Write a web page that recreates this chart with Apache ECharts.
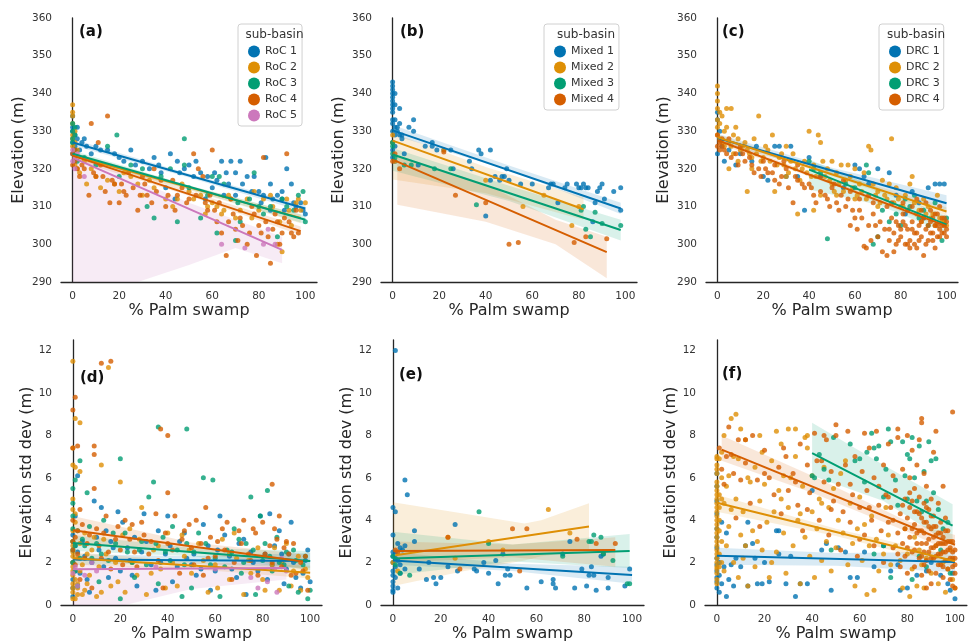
<!DOCTYPE html>
<html>
<head>
<meta charset="utf-8">
<script src="https://cdn.jsdelivr.net/npm/echarts@6.0.0/dist/echarts.min.js"></script>
<style>
  html, body { margin: 0; padding: 0; background: #fff; }
  #main { width: 968px; height: 644px; }
</style>
</head>
<body>
<div id="main"></div>
<script>
// palette (seaborn colorblind)
var C = ['#0173b2', '#de8f05', '#029e73', '#d55e00', '#cc78bc'];

var xTicks = [0, 20, 40, 60, 80, 100];
var elevTicks = [290, 300, 310, 320, 330, 340, 350, 360];
var sdTicks = [0, 2, 4, 6, 8, 10, 12];

var rocNames = ['RoC 1', 'RoC 2', 'RoC 3', 'RoC 4', 'RoC 5'];
var mixNames = ['Mixed 1', 'Mixed 2', 'Mixed 3', 'Mixed 4'];
var drcNames = ['DRC 1', 'DRC 2', 'DRC 3', 'DRC 4'];

// ---------- (a) elevation, RoC ----------
var aRoC1 = [[0,334],[0,331],[1,329],[0,327],[2,328],[1,326],[3,325],[0,324],[5,328],[10,326],[15,325],[20,323],[25,325],[30,322],[35,323],[42,324],[45,322],[48,320],[50,321],[55,319],[58,318],[62,317],[64,322],[66,319],[68,322],[70,319],[72,322],[75,318],[78,318],[80,314],[82,313],[83,323],[85,316],[88,313],[90,312],[92,320],[94,316],[96,310],[98,311],[100,308],[40,315],[44,312],[60,315],[70,313],[85,309],[90,314],[52,318],[57,312],[65,313],[73,316],[8,324],[27,321],[38,319],
    [0,330],[2,331],[4,327],[6,326],[12,325],[18,324],[22,322],[33,320],[37,321],[46,319],[53,322],[61,319],[67,316],[77,314],[81,311],[86,312],[91,309],[95,311],[99,309]];
var aRoC2 = [[0,337],[0,334],[0,332],[1,330],[0,326],[1,321],[2,320],[3,319],[5,322],[8,320],[10,318],[12,315],[15,317],[18,316],[20,314],[25,318],[28,316],[30,313],[35,315],[40,312],[45,312],[50,314],[55,313],[60,311],[62,310],[65,309],[70,307],[75,312],[78,314],[80,309],[82,312],[85,313],[88,300],[90,298],[92,312],[94,305],[96,311],[98,309],[6,316],[22,319],[33,317],[47,316],[57,308],[68,312],
    [0,329],[0,328],[1,327],[0,335],[2,325],[1,323],[43,310],[52,312],[58,310],[64,308],[67,313],[72,309],[77,307],[86,310],[89,306],[93,309],[97,312],[100,311]];
var aRoC3 = [[0,330],[0,328],[1,325],[2,322],[5,323],[10,321],[15,326],[19,329],[20,318],[25,321],[30,320],[32,310],[35,307],[38,318],[42,320],[45,306],[48,328],[48,321],[50,315],[55,307],[58,313],[60,318],[62,303],[63,318],[65,316],[70,301],[71,311],[72,306],[76,312],[78,319],[80,310],[82,308],[85,310],[88,302],[90,312],[92,310],[95,309],[97,313],[99,314],[100,306],
    [0,332],[0,327],[1,329],[1,331]];
var aRoC4 = [[0,324],[1,322],[2,320],[4,321],[7,313],[8,332],[10,318],[11,327],[12,321],[14,314],[15,334],[16,311],[18,316],[20,311],[22,314],[24,319],[26,315],[28,309],[30,318],[32,313],[35,320],[38,317],[40,310],[43,317],[45,313],[47,315],[50,312],[52,324],[54,320],[56,318],[58,309],[60,325],[62,306],[64,303],[66,297],[68,312],[70,304],[72,307],[75,300],[77,310],[79,297],[80,305],[82,323],[84,302],[85,295],[87,308],[89,300],[91,307],[92,324],[94,303],[96,309],[97,303],
    [0,321],[1,325],[3,318],[5,320],[9,319],[13,318],[17,317],[21,316],[23,313],[29,313],[31,316],[34,311],[36,314],[41,313],[44,309],[49,311],[53,313],[57,311],[59,313],[61,309],[63,311],[67,306],[69,308],[71,301],[73,305],[76,303],[78,308],[81,303],[83,306],[86,304],[88,306],[90,303],[93,306],[95,302]];
var aRoC5 = [[0,322],[0,325],[1,320],[2,324],[5,318],[64,300],[74,299],[82,300],[84,304],[87,300]];
var aFit1 = [[0,327],[100,309.5]];
var aFit2 = [[0,323.5],[98,307]];
var aFit3 = [[0,324],[100,306.5]];
var aFit4 = [[0,323.5],[98,303.5]];
var aFit5 = [[0,323],[90,298.5]];
var aBand1 = [[0,326.2,327.9],[50,317.7,318.7],[100,308.5,310.4]];
var aBand2 = [[0,322.6,324.4],[50,314.4,315.5],[98,305.6,307.9]];
var aBand3 = [[0,323.1,324.9],[50,314.6,315.6],[100,305.4,307.6]];
var aBand4 = [[0,322.5,324.5],[50,312.9,314.1],[98,302.4,304.7]];
var aBand5 = [[0,290,324],[28,290,317],[50,294.5,311],[70,299,306.5],[90,295,302]];

// ---------- (b) elevation, Mixed ----------
var bMix1 = [[0,343],[0,342],[0,341],[0,340],[0,339],[1,340],[0,338],[0,337],[1,337],[0,336],[0,335],[0,333],[1,333],[0,332],[1,331],[2,331],[0,330],[1,329],[2,330],[3,329],[0,327],[1,326],[0,325],[0,323],[1,322],[3,336],[3,332],[4,329],[4,328],[5,324],[7,331],[9,333],[9,330],[11,321],[14,326],[17,326],[17,327],[19,325],[22,325],[25,325],[26,320],[33,322],[34,320],[37,325],[38,324],[42,325],[42,317],[44,318],[46,317],[47,318],[48,318],[49,320],[50,317],[55,316],[60,316],[67,315],[68,316],[69,316],[71,311],[74,315],[75,316],[79,316],[80,315],[81,315],[82,316],[83,315],[84,315],[86,306],[87,311],[88,314],[89,315],[90,316],[91,312],[95,314],[98,315],[98,309],[40,307.5]];
var bMix2 = [[0,329],[0,327],[22,325],[40,317],[56,310],[65,313],[77,305],[80,310],[1,322]];
var bMix3 = [[0,327],[0,326],[0,324],[1,323],[18,320],[25,320],[36,310.5],[81,309],[82,310],[83,304],[85,302],[87,308.5],[90,305.5],[98,305],[5,321],[8,321]];
var bMix4 = [[0,322],[1,324],[22,324.5],[27,313],[40,311],[50,300],[54,300.5],[78,300.5],[83,302],[92,301.5],[3,320]];
var bFit1 = [[0,330.2],[98,309.5]];
var bFit2 = [[0,327.5],[82,309.3]];
var bFit3 = [[0,323.8],[98,303.8]];
var bFit4 = [[1,322.2],[92,297.9]];
var bBand1 = [[0,329,331.6],[50,319.6,320.9],[98,308,311]];
var bBand2 = [[0,317.2,329.5],[40,313.5,320.5],[82,306.5,312.5]];
var bBand3 = [[0,319.5,325.5],[50,311.5,315.5],[98,301,306.5]];
var bBand4 = [[2,310.5,323.5],[40,306,316],[70,300,306.5],[92,291,302]];

// ---------- (c) elevation, DRC ----------
var cDrc1 = [[0,335],[0,333],[1,330],[2,326],[0,324],[3,322],[5,325],[8,321],[10,324],[15,322],[17,326],[20,318],[22,317],[25,326],[27,326],[30,318],[32,326],[35,318],[38,309],[40,323],[45,318],[55,315],[60,321],[62,320],[64,318],[66,316],[70,320],[75,319],[78,313],[85,314],[88,311],[92,315],[95,316],[97,316],[99,316],[82,308],[90,307]];
var cDrc2 = [[0,342],[0,340],[0,338],[0,336],[1,335],[0,333],[1,332],[2,334],[3,330],[4,336],[6,336],[7,329],[9,328],[10,325],[12,327],[14,324],[16,328],[18,334],[20,323],[22,325],[24,329],[26,321],[28,324],[30,326],[32,322],[34,320],[36,317],[38,322],[40,330],[41,318],[42,321],[44,329],[45,327],[46,322],[48,320],[50,316],[52,319],[54,321],[56,317],[58,318],[60,312],[62,316],[64,319],[66,326],[67,325],[68,316],[70,314],[72,317],[74,312],[76,328],[78,315],[80,310],[82,313],[84,316],[86,311],[88,309],[90,312],[92,310],[94,308],[96,313],[98,306],[100,305],[13,314],[25,314],[35,308],[42,309],[45,313],[70,310],[60,320],[50,322],[30,318],[15,320],[5,320],[8,331],[57,321],[52,313],[75,316],[85,318],
    [0,331],[0,329],[1,328],[2,327],[3,326],[4,331],[5,327],[6,326],[7,324],[9,322],[11,326],[13,325],[15,323],[17,324],[19,322],[21,326],[23,322],[27,323],[29,321],[31,319],[33,324],[37,320],[39,319],[43,318],[47,318],[49,317],[51,314],[53,316],[55,314],[59,315],[61,313],[63,314],[65,312],[69,313],[71,311],[73,313],[77,311],[79,312],[81,310],[83,309],[87,308],[89,306],[91,308],[93,307],[95,305],[97,307],[99,306]];
var cDrc3 = [[40,322],[42,320],[45,319],[48,301.5],[56,316],[60,315],[65,321],[66,319],[68,300],[70,302],[72,309],[75,306],[78,308],[80,305],[82,312],[84,310],[86,313],[88,307],[90,309],[92,305],[95,311],[98,301],[100,307]];
var cDrc4 = [[0,329],[1,327],[2,326],[3,325],[5,328],[8,324],[10,326],[12,322],[15,321],[18,320],[20,322],[22,319],[25,321],[28,318],[30,320],[33,311],[35,317],[38,315],[40,316],[42,313],[45,314],[48,312],[50,315],[52,311],[54,313],[56,310],[58,314],[60,307],[62,309],[64,299.5],[65,299],[66,305],[68,308],[70,302],[71,306],[72,298],[73,304],[74,297],[75,301],[76,307],[77,303],[78,300],[79,305],[80,302],[81,308],[82,300],[83,304],[84,301],[85,306],[86,303],[87,299],[88,305],[89,302],[90,297],[90,307],[91,304],[92,301],[93,306],[94,303],[95,299],[96,305],[97,304],[98,307],[99,303],[100,306],[100,304],[81,311],[83,309],[85,310],[87,312],[89,309],[91,311],[93,309],[95,308],[97,310],[99,307],[84,299],[86,300],[80,304],[78,306],[92,305],[94,307],[96,302],[98,305],[62,312],[68,311],[55,317],[45,318],[35,321],[25,317],[58,305],[66,313],[74,310],[76,311],
    [0,326],[1,325],[2,328],[4,324],[6,323],[9,321],[11,324],[14,323],[16,319],[19,318],[21,320],[24,319],[27,316],[29,322],[31,315],[34,318],[37,316],[41,315],[43,311],[47,313],[49,310],[51,316],[53,309],[57,312],[59,309],[61,304],[63,307],[67,301],[69,305],[75,304],[77,298],[79,301],[81,306],[83,300],[85,304],[87,303],[89,306],[91,300],[93,303],[95,305],[97,302],[99,305],[100,302],[82,305],[88,301],[94,301],[96,308],[98,303]];
var cFit1 = [[0,328.2],[100,310.9]];
var cFit2 = [[0,328.4],[100,308.7]];
var cFit3 = [[40,319.8],[100,305.2]];
var cFit4 = [[0,327.6],[100,304.8]];
var cBand1 = [[0,327,329.3],[50,318.7,320.3],[100,309,313]];
var cBand2 = [[0,327.6,329.2],[50,318.1,319.1],[100,307.6,309.8]];
var cBand3 = [[40,314.5,322.5],[70,310.5,315],[100,303,307.5]];
var cBand4 = [[0,326.8,328.4],[50,315.8,316.8],[100,304.1,305.6]];

// ---------- (d) std dev, RoC ----------
var dRoC1 = [[0,0.4],[0,0.8],[0,1.2],[0,2.0],[1,2.8],[0,3.3],[1,4.2],[2,6.1],[3,1.5],[5,2.3],[7,0.6],[9,4.9],[10,3.2],[12,4.6],[15,1.3],[17,2.7],[19,4.4],[21,3.9],[24,2.1],[27,0.9],[30,4.3],[33,1.9],[36,3.5],[39,2.4],[42,1.1],[45,3.0],[48,2.2],[52,1.4],[55,3.8],[58,0.7],[61,2.6],[64,3.3],[67,1.7],[70,2.9],[73,0.5],[76,2.0],[79,4.2],[82,1.2],[83,4.3],[85,2.8],[87,3.5],[89,1.0],[91,2.4],[92,3.9],[94,1.3],[96,0.8],[98,2.1],[100,1.1],[62,4.2],[40,4.2],[26,3.2],[14,3.5],[50,1.9],[35,0.7],
    [1,1.6],[2,2.5],[4,3.0],[6,1.2],[8,2.0],[11,2.6],[13,1.8],[16,3.0],[18,2.2],[20,1.6],[23,2.7],[25,1.4],[29,2.5],[31,3.0],[37,2.0],[41,2.8],[44,1.8],[47,3.4],[51,2.4],[54,1.7],[57,2.8],[60,1.6],[66,2.3],[69,1.3],[72,3.1],[75,2.5],[78,1.6],[81,2.4],[84,1.9],[88,2.4],[90,1.7],[93,2.0],[97,1.5],[99,2.6]];
var dRoC2 = [[0,11.5],[0,7.4],[1,8.8],[3,8.6],[0,6.6],[1,6.5],[3,6.3],[12,6.6],[15,11.2],[20,5.8],[0,5.0],[0,4.5],[0,3.5],[0,3.0],[0,2.5],[0,1.8],[0,1.4],[0,1.0],[0,0.6],[1,0.3],[1,1.2],[2,2.2],[2,0.8],[3,1.6],[4,0.5],[5,3.4],[6,1.0],[8,2.6],[10,0.4],[11,1.8],[13,3.1],[16,0.9],[18,2.0],[22,0.6],[24,3.6],[27,1.4],[29,4.6],[31,0.5],[34,2.6],[37,1.7],[40,3.4],[44,0.9],[47,2.3],[50,1.5],[53,2.9],[57,0.6],[60,1.9],[63,3.1],[66,1.2],[69,2.2],[72,0.5],[75,1.5],[78,2.7],[81,0.7],[84,1.9],[87,0.7],[90,2.9],[93,1.6],[96,0.7],[99,1.3],[46,3.3],[66,2.4],
    [0,0.3],[0,0.8],[0,1.6],[0,2.0],[0,2.3],[0,2.8],[1,3.9],[1,4.3],[2,1.0],[2,0.5],[3,2.9],[4,1.9],[5,0.7],[6,2.4],[7,1.4],[9,3.2],[12,0.6],[14,2.4],[19,1.1],[21,3.3],[25,2.0],[28,3.1],[33,1.5],[36,2.8],[39,0.8],[42,2.0],[49,2.6],[55,2.1],[61,0.8],[68,3.4],[74,2.1],[80,1.2],[85,2.7],[88,2.0],[92,0.9],[95,2.3],[98,1.7]];
var dRoC3 = [[0,4.8],[0,4.2],[1,5.9],[0,5.5],[3,6.8],[0,3.6],[0,2.6],[1,1.6],[2,0.9],[4,3.1],[6,5.3],[8,2.2],[11,1.1],[13,4.0],[20,6.9],[17,3.4],[20,0.3],[23,2.5],[26,1.3],[29,3.0],[32,5.1],[34,5.8],[36,8.4],[36,1.0],[39,2.5],[42,3.7],[46,0.4],[48,8.3],[48,2.9],[50,0.8],[53,3.4],[55,6.0],[59,5.9],[58,1.9],[62,0.4],[65,2.6],[68,3.6],[71,1.5],[73,2.9],[75,5.1],[77,0.5],[79,4.2],[80,2.1],[82,5.4],[84,1.6],[86,3.2],[89,1.9],[91,0.9],[93,2.6],[95,0.6],[97,1.9],[99,0.3],[100,0.7],[70,3.1],
    [0,3.0],[0,2.0],[1,2.8],[2,3.5],[3,2.2],[5,2.8],[7,3.7],[10,2.9],[12,2.4],[15,2.1],[18,2.9],[22,3.4],[25,2.0],[28,2.6],[31,1.9],[35,2.9],[38,3.2],[41,2.1],[44,2.6],[47,1.9],[51,2.5],[56,2.9],[60,2.2],[64,1.8],[67,2.5],[72,2.0],[76,2.6],[81,2.9],[83,2.3],[87,2.0],[90,2.5],[94,2.1],[98,2.3]];
var dRoC4 = [[0,7.4],[0,9.2],[1,9.8],[2,7.5],[9,7.5],[9,7.1],[12,11.4],[16,11.5],[37,8.3],[40,8.0],[9,5.5],[40,5.3],[84,5.7],[0,4.0],[1,3.2],[2,2.4],[3,1.2],[4,3.8],[6,2.9],[8,0.8],[10,3.6],[12,2.2],[14,4.2],[16,1.7],[18,3.1],[20,2.6],[22,4.0],[25,3.8],[27,1.8],[30,3.3],[32,2.4],[35,4.3],[38,0.8],[40,2.9],[43,4.2],[45,1.5],[47,3.5],[50,2.7],[52,4.0],[55,1.4],[56,4.6],[58,3.2],[60,2.3],[63,3.6],[65,3.9],[67,1.2],[70,3.5],[72,4.0],[74,2.4],[76,3.6],[78,1.4],[80,3.9],[83,2.8],[85,3.6],[87,4.2],[89,2.7],[90,3.0],[92,1.4],[94,1.5],[97,1.6],[99,0.7],
    [0,2.6],[0,3.0],[1,1.9],[2,3.5],[3,4.5],[5,2.2],[7,3.3],[11,2.8],[13,3.4],[15,2.5],[19,3.7],[21,1.9],[24,3.1],[26,2.5],[29,3.9],[33,3.0],[36,2.1],[39,3.4],[42,2.6],[46,3.1],[49,3.8],[51,1.9],[54,2.9],[57,2.2],[61,3.0],[64,2.6],[68,2.0],[71,2.9],[75,2.1],[77,3.4],[81,2.4],[84,2.0],[86,3.1],[88,1.8],[91,2.4],[93,2.9],[96,2.0],[98,2.3]];
var dRoC5 = [[0,1.5],[1,1.8],[2,0.9],[5,1.4],[8,2.0],[10,1.6],[35,1.8],[60,1.7],[75,1.3],[78,0.8],[82,1.1],[85,1.7],[88,2.2],[90,1.6],[86,0.6]];
var dFit1 = [[0,2.15],[100,2.07]];
var dFit2 = [[0,2.2],[100,1.52]];
var dFit3 = [[0,2.93],[100,2.07]];
var dFit4 = [[0,3.53],[97,2.05]];
var dFit5 = [[0,1.69],[90,1.74]];
var dBand1 = [[0,1.9,2.4],[50,1.95,2.3],[100,1.75,2.45]];
var dBand2 = [[0,1.9,2.5],[50,1.7,2.05],[100,1.25,1.85]];
var dBand3 = [[0,2.55,3.3],[50,2.3,2.7],[100,1.65,2.55]];
var dBand4 = [[0,2.85,4.2],[50,2.5,2.95],[97,1.7,2.4]];
var dBand5 = [[0,0,1.95],[22,0,1.85],[50,0.75,1.85],[90,1.2,2.3]];

// ---------- (e) std dev, Mixed ----------
var eMix1 = [[1,12],[5,5.9],[6,5.2],[0,4.6],[1,4.4],[0,3.3],[2,2.9],[3,2.7],[4,2.6],[5,2.8],[0,2.5],[0,2.3],[1,2.2],[0,2.0],[1,1.8],[0,1.6],[0,1.4],[1,1.3],[0,1.1],[0,0.9],[0,0.7],[0,0.6],[2,0.8],[1,2.5],[3,1.5],[5,1.7],[9,3.5],[9,3.0],[11,1.7],[14,1.2],[17,1.3],[18,1.0],[20,1.3],[23,1.8],[26,3.8],[27,1.6],[34,1.7],[35,1.6],[38,2.0],[40,1.5],[43,2.1],[44,1.0],[46,2.4],[47,1.4],[48,1.7],[49,1.4],[56,0.8],[62,1.1],[67,1.2],[67,1.0],[68,0.8],[71,2.4],[74,3.0],[76,0.8],[79,1.7],[81,0.9],[82,1.4],[83,1.8],[84,1.4],[85,0.7],[87,2.3],[88,2.4],[90,1.3],[90,0.8],[97,0.9],[99,1.7],[15,2.0],[2,2.1],[3,1.9]];
var eMix2 = [[0,2.0],[2,1.6],[23,3.2],[26,2.2],[40,3.0],[46,2.6],[65,4.5],[74,3.4],[88,2.5]];
var eMix3 = [[0,2.3],[1,1.9],[3,1.5],[7,1.4],[36,4.4],[40,2.9],[71,2.3],[83,3.0],[84,3.3],[87,3.2],[88,2.4],[92,2.1],[98,1.0],[99,1.0],[82,3.0]];
var eMix4 = [[1,2.6],[2,2.5],[23,3.2],[28,1.7],[50,3.6],[53,1.6],[56,3.6],[77,3.1],[85,2.9],[93,2.9]];
var eFit1 = [[0,2.1],[100,1.41]];
var eFit2 = [[1,2.35],[82,3.7]];
var eFit3 = [[0,2.19],[99,2.55]];
var eFit4 = [[1,2.55],[93,2.6]];
var eBand1 = [[0,1.9,2.5],[50,1.6,1.95],[100,1.0,1.8]];
var eBand2 = [[0,0.9,4.85],[30,1.6,4.3],[55,2.1,3.85],[62,2.3,4.0],[82,2.6,4.8]];
var eBand3 = [[0,1.4,3.45],[50,2.05,2.85],[99,1.75,3.35]];
var eBand4 = [[1,2.0,3.0],[50,2.25,2.85],[93,1.8,3.2]];

// ---------- (f) std dev, DRC ----------
var fDrc1 = [[0,6.2],[0,5.6],[0,4.9],[0,4.3],[0,3.6],[0,3.2],[0,2.7],[0,2.2],[0,1.9],[0,1.6],[0,1.3],[0,1.1],[0,0.8],[1,0.6],[1,1.4],[1,2.0],[2,3.9],[2,1.0],[3,1.8],[4,0.4],[4,3.4],[5,1.2],[6,1.9],[7,0.9],[8,2.2],[10,1.8],[12,2.8],[13,0.9],[13,3.9],[15,2.9],[16,2.2],[17,1.0],[19,1.0],[20,2.0],[22,1.1],[25,3.5],[26,3.5],[26,2.4],[29,1.0],[31,2.3],[33,0.4],[35,1.0],[38,1.0],[40,5.4],[44,2.6],[46,2.9],[48,0.7],[51,2.7],[54,2.5],[56,1.3],[59,1.3],[62,2.5],[66,1.8],[70,2.8],[73,1.6],[76,1.9],[77,0.7],[80,0.8],[84,1.4],[88,1.6],[90,2.0],[94,1.4],[97,1.0],[98,0.7],[100,0.3],[99,1.5]];
var fDrc2 = [[0,7.0],[0,6.6],[0,6.2],[0,5.8],[0,5.4],[0,5.0],[0,4.6],[0,4.2],[0,3.8],[0,3.4],[0,3.0],[0,2.6],[0,2.2],[0,1.8],[0,1.5],[0,1.2],[1,6.9],[1,5.2],[1,4.0],[1,2.4],[2,7.2],[2,3.0],[3,8.0],[3,1.6],[4,5.6],[5,6.1],[5,3.7],[6,8.8],[6,4.5],[7,2.0],[8,9.0],[8,5.0],[9,6.9],[9,1.3],[10,8.3],[10,3.3],[11,4.4],[12,7.8],[12,2.8],[13,0.9],[14,5.8],[15,3.5],[16,6.5],[16,1.8],[18,4.9],[18,8.0],[19,2.6],[20,5.7],[21,3.9],[22,1.3],[23,6.8],[24,4.4],[25,2.5],[26,5.4],[27,7.6],[28,3.4],[29,1.5],[30,4.6],[30,8.3],[31,6.0],[32,2.8],[33,7.0],[34,4.0],[35,1.0],[36,5.6],[37,3.2],[38,7.4],[38,8.0],[39,2.3],[40,4.4],[40,6.1],[41,1.3],[42,3.6],[43,5.0],[44,2.1],[45,6.5],[46,3.0],[47,4.6],[48,1.6],[49,5.5],[50,2.7],[51,4.0],[52,6.2],[53,3.4],[55,1.9],[56,4.8],[57,2.9],[58,0.9],[59,3.6],[60,5.1],[61,2.1],[62,3.8],[63,0.5],[64,2.8],[65,4.2],[66,0.7],[67,3.1],[68,1.6],[70,2.4],[71,4.6],[72,3.3],[73,1.9],[75,2.8],[77,2.1],[78,0.8],[79,3.6],[80,2.4],[81,0.4],[82,1.7],[83,3.2],[84,0.9],[85,2.6],[86,1.9],[87,0.8],[88,2.2],[90,1.5],[92,2.8],[93,1.0],[95,2.0],[96,0.6],[97,1.7],[98,2.6],[99,1.2],[100,0.8],[7,7.0],[13,6.0],[27,5.0],[35,4.3],[44,4.8],[54,6.8],[23,2.0],[17,3.0],[4,2.8],[3,4.8],[11,2.2],[25,8.2],[33,8.3],[37,7.9],[19,7.2],[28,6.1],
    [0,6.9],[0,6.4],[0,5.6],[0,5.2],[0,4.8],[0,4.4],[0,4.0],[0,3.6],[0,3.2],[0,2.8],[0,2.4],[0,2.0],[0,1.7],[0,1.0],[1,3.5],[1,4.6],[2,5.0],[2,6.0],[2,2.0],[1,1.8]];
var fDrc3 = [[40,6.1],[41,6.0],[43,7.1],[45,6.4],[47,5.9],[49,7.9],[56,7.6],[58,6.8],[60,6.9],[62,5.8],[63,7.2],[65,8.1],[66,7.4],[67,6.9],[68,7.5],[70,5.1],[71,6.4],[72,8.3],[73,7.7],[75,5.9],[76,4.7],[78,7.7],[79,6.1],[80,7.1],[80,5.0],[81,6.9],[82,7.9],[83,6.0],[84,4.9],[85,7.5],[86,4.4],[87,6.3],[88,4.9],[89,7.7],[90,6.8],[91,5.3],[92,6.9],[93,4.5],[95,3.6],[97,3.9],[98,1.5],[66,2.4],[48,2.6],[73,1.3],[85,2.3],[88,1.8],[94,2.6],[99,2.1],[82,1.2],[70,2.8]];
var fDrc4 = [[1,7.4],[2,6.4],[3,5.7],[5,8.4],[6,7.1],[8,4.1],[9,7.8],[10,5.9],[12,6.7],[14,4.8],[15,8.0],[17,5.9],[18,3.7],[20,7.3],[22,6.0],[24,5.2],[26,6.5],[27,4.3],[29,7.0],[30,5.4],[32,6.2],[34,4.7],[35,7.6],[36,3.5],[38,6.6],[39,5.3],[41,8.1],[42,6.8],[43,4.0],[45,5.8],[46,7.8],[47,3.3],[48,6.3],[49,4.9],[50,8.0],[51,5.7],[52,2.6],[53,4.4],[54,6.6],[55,8.2],[56,3.9],[57,5.2],[58,7.0],[59,2.3],[60,4.6],[61,6.3],[62,8.1],[62,3.3],[63,5.4],[64,7.4],[65,4.0],[66,2.8],[66,6.0],[67,8.2],[68,4.7],[69,3.5],[70,6.6],[70,2.0],[71,5.2],[72,7.6],[72,3.9],[73,4.6],[74,2.7],[74,6.1],[75,5.4],[76,3.4],[76,7.9],[77,4.3],[77,1.8],[78,6.4],[78,2.9],[79,5.0],[79,3.6],[80,8.0],[80,4.1],[80,1.5],[81,6.0],[81,3.2],[82,4.9],[82,2.5],[82,7.3],[83,5.5],[83,3.8],[83,1.8],[84,4.4],[84,2.9],[84,6.6],[85,3.5],[85,5.1],[85,2.2],[85,7.8],[86,4.1],[86,2.9],[86,8.6],[86,1.4],[87,3.4],[87,4.8],[87,2.5],[87,6.2],[88,3.9],[88,2.1],[88,5.6],[88,0.8],[89,3.1],[89,4.5],[89,1.6],[90,2.7],[90,3.6],[90,5.0],[90,1.0],[91,3.2],[91,2.2],[91,4.2],[91,7.2],[92,2.8],[92,3.7],[92,1.5],[93,3.4],[93,2.4],[93,4.8],[94,2.9],[94,1.9],[94,3.9],[95,2.5],[95,3.2],[95,1.3],[95,5.6],[96,2.1],[96,2.9],[96,4.1],[97,1.7],[97,2.6],[97,3.5],[98,2.2],[98,1.2],[98,3.0],[99,1.8],[99,2.5],[99,0.9],[100,1.5],[100,2.2],[100,0.8],[99,9.1],[86,8.8],[76,8.3],[92,8.2],[50,8.5],[45,8.0],
    [80,2.7],[81,4.6],[82,3.6],[83,2.6],[84,3.4],[85,4.3],[86,3.5],[86,2.3],[87,3.9],[87,1.9],[88,2.9],[88,4.6],[89,2.5],[89,3.7],[90,2.2],[90,4.2],[91,2.7],[91,3.7],[92,2.3],[92,3.3],[93,2.9],[93,1.9],[94,2.4],[94,3.4],[95,2.9],[95,1.8],[96,2.5],[96,3.5],[97,2.1],[97,3.0],[98,2.7],[99,2.2],[99,3.0],[100,1.9],[100,2.6],[78,4.7],[79,2.3],[81,5.3],[83,4.4],[76,2.4],[74,4.0],[72,5.1],[68,5.6],[64,4.6],[60,3.1],[56,5.7],[48,4.5],[44,6.8],[38,4.5],[33,5.8],[28,7.4],[20,6.2],[12,7.8],[7,6.2],[4,7.0]];
var fFit1 = [[0,2.32],[100,2.03]];
var fFit2 = [[0,4.82],[100,2.06]];
var fFit3 = [[40,7.16],[99,3.74]];
var fFit4 = [[2,7.33],[100,2.84]];
var fBand1 = [[0,1.9,2.7],[50,1.85,2.45],[100,1.55,2.5]];
var fBand2 = [[0,4.4,5.2],[50,3.25,3.6],[100,1.8,2.3]];
var fBand3 = [[40,6.1,8.6],[70,4.9,6.6],[99,2.8,4.75]];
var fBand4 = [[2,6.8,8.0],[40,5.3,6.1],[80,3.45,3.95],[100,2.4,3.3]];

var FONT = 'DejaVu Sans';
var AXC = '#262626';

var myChart = echarts.init(document.getElementById('main'));

// grid boxes: [left, top, width, height]
var boxes = [
    [61, 18, 256, 264], [381, 18, 256, 264], [706, 18, 252, 264],
    [61, 340, 261, 265], [381, 340, 263, 265], [705, 340, 267, 265]
];

var grids = [], xAxes = [], yAxes = [], series = [];

boxes.forEach(function (b, i) {
    var top = i < 3;
    grids.push({left: b[0], top: b[1], width: b[2], height: b[3], containLabel: false});
    xAxes.push({
        type: 'value', gridIndex: i, min: -5, max: 105,
        name: '% Palm swamp', nameLocation: 'middle', nameGap: 21,
        nameTextStyle: {fontSize: 16, color: AXC, fontFamily: FONT, verticalAlign: 'top'},
        axisLine: {show: true, lineStyle: {color: AXC, width: 1.3}},
        axisTick: {show: false}, splitLine: {show: false},
        axisLabel: {customValues: xTicks, fontSize: 10.5, color: '#333', fontFamily: FONT, margin: 9}
    });
    yAxes.push({
        type: 'value', gridIndex: i,
        min: top ? 290 : 0, max: top ? 360 : 12.5,
        name: top ? 'Elevation (m)' : 'Elevation std dev (m)',
        nameLocation: 'middle', nameGap: top ? 34 : 26,
        nameTextStyle: {fontSize: 16, color: AXC, fontFamily: FONT},
        axisLine: {show: true, lineStyle: {color: AXC, width: 1.3}},
        axisTick: {show: false}, splitLine: {show: false},
        axisLabel: {customValues: top ? elevTicks : sdTicks, fontSize: 10.5, color: '#333', fontFamily: FONT, margin: 9}
    });
});

function bandSeries(g, band, color) {
    return {
        type: 'custom', xAxisIndex: g, yAxisIndex: g, silent: true, z: 1,
        data: [band[0]], encode: {x: 0, y: 1},
        renderItem: function (params, api) {
            var pts = [];
            for (var i = 0; i < band.length; i++) pts.push(api.coord([band[i][0], band[i][2]]));
            for (var j = band.length - 1; j >= 0; j--) pts.push(api.coord([band[j][0], band[j][1]]));
            var cs = params.coordSys;
            return {
                type: 'polygon', shape: {points: pts},
                style: {fill: echarts.color.modifyAlpha(color, 0.15)},
                clipPath: {type: 'rect', shape: {x: cs.x, y: cs.y, width: cs.width, height: cs.height}}
            };
        }
    };
}

function addPanel(g, names, pts, fits, bands) {
    names.forEach(function (nm, i) { series.push(bandSeries(g, bands[i], C[i])); });
    names.forEach(function (nm, i) {
        series.push({
            name: nm, type: 'scatter', xAxisIndex: g, yAxisIndex: g, data: pts[i],
            symbolSize: 5, itemStyle: {color: C[i], opacity: 0.8}, z: 2, silent: true
        });
    });
    names.forEach(function (nm, i) {
        series.push({
            name: nm + ' fit', type: 'line', xAxisIndex: g, yAxisIndex: g, data: fits[i],
            showSymbol: false, lineStyle: {color: C[i], width: 2}, itemStyle: {color: C[i]}, z: 3, silent: true
        });
    });
}

addPanel(0, rocNames, [aRoC1, aRoC2, aRoC3, aRoC4, aRoC5], [aFit1, aFit2, aFit3, aFit4, aFit5], [aBand1, aBand2, aBand3, aBand4, aBand5]);
addPanel(1, mixNames, [bMix1, bMix2, bMix3, bMix4], [bFit1, bFit2, bFit3, bFit4], [bBand1, bBand2, bBand3, bBand4]);
addPanel(2, drcNames, [cDrc1, cDrc2, cDrc3, cDrc4], [cFit1, cFit2, cFit3, cFit4], [cBand1, cBand2, cBand3, cBand4]);
addPanel(3, rocNames, [dRoC1, dRoC2, dRoC3, dRoC4, dRoC5], [dFit1, dFit2, dFit3, dFit4, dFit5], [dBand1, dBand2, dBand3, dBand4, dBand5]);
addPanel(4, mixNames, [eMix1, eMix2, eMix3, eMix4], [eFit1, eFit2, eFit3, eFit4], [eBand1, eBand2, eBand3, eBand4]);
addPanel(5, drcNames, [fDrc1, fDrc2, fDrc3, fDrc4], [fFit1, fFit2, fFit3, fFit4], [fBand1, fBand2, fBand3, fBand4]);

function legendAt(left, names, padL, gap, padR) {
    return {
        orient: 'vertical', left: left, top: 24, data: names, icon: 'circle',
        itemWidth: 12, itemHeight: 12, itemGap: 3, itemTextGap: gap,
        itemStyle: {opacity: 1},
        padding: [21, padR, 4, padL],
        borderColor: '#d0d0d0', borderWidth: 1, borderRadius: 3,
        backgroundColor: 'rgba(255,255,255,0.8)',
        textStyle: {fontSize: 11, color: '#333', fontFamily: FONT, lineHeight: 13},
        selectedMode: false
    };
}

function label(x, y, t) {
    return {type: 'text', x: x, y: y, z: 10,
        style: {text: t, fontSize: 15, fontWeight: 'bold', fontFamily: FONT, fill: '#111', verticalAlign: 'middle'}};
}
function subTitle(x) {
    return {type: 'text', x: x, y: 35, z: 10,
        style: {text: 'sub-basin', fontSize: 12, fontFamily: FONT, fill: '#333', align: 'center', verticalAlign: 'middle'}};
}

var option = {
    animation: false,
    grid: grids,
    xAxis: xAxes,
    yAxis: yAxes,
    legend: [
        legendAt(238, rocNames, 10, 13, 5),
        legendAt(544, mixNames, 10, 14, 5),
        legendAt(879, drcNames, 10, 15, 4)
    ],
    graphic: [
        label(79, 32, '(a)'), label(400, 32, '(b)'), label(722, 32, '(c)'),
        label(80, 378, '(d)'), label(399, 375, '(e)'), label(722, 374, '(f)'),
        subTitle(274.5), subTitle(586), subTitle(916)
    ],
    series: series
};

myChart.setOption(option);
</script>
</body>
</html>
